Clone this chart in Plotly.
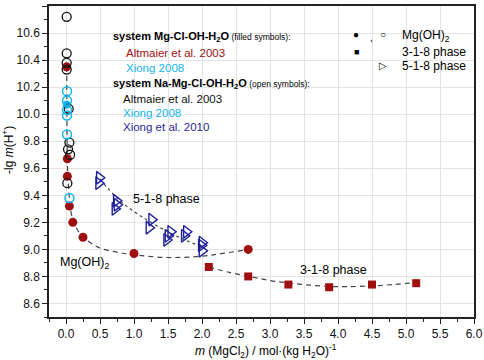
import plotly.graph_objects as go

# ---------------- data ----------------
# Mg-Cl-OH-H2O (filled symbols)
alt_mgoh_x = [0.01, 0.02, 0.02, 0.05, 0.10, 0.25, 1.00, 2.68]
alt_mgoh_y = [10.35, 9.67, 9.54, 9.32, 9.20, 9.09, 8.97, 9.00]
alt_318_x = [2.10, 2.68, 3.27, 3.87, 4.50, 5.15]
alt_318_y = [8.87, 8.80, 8.74, 8.72, 8.74, 8.75]
xiong08_filled_x = [0.01]
xiong08_filled_y = [10.07]

# Na-Mg-Cl-OH-H2O (open symbols)
alt_open_x = [0.01, 0.01, 0.01, 0.01, 0.04, 0.05, 0.03, 0.06, 0.02]
alt_open_y = [10.72, 10.45, 10.38, 10.33, 10.04, 9.79, 9.74, 9.70, 9.49]
xiong08_open_x = [0.015, 0.015, 0.015, 0.015, 0.015, 0.05]
xiong08_open_y = [10.17, 10.10, 10.03, 9.99, 9.85, 9.38]
xiong10_x = [0.49, 0.48, 0.74, 0.75, 0.72, 1.26, 1.22, 1.54, 1.50, 1.48, 1.77, 1.74, 2.00, 1.99, 2.00]
xiong10_y = [9.53, 9.49, 9.36, 9.33, 9.30, 9.22, 9.16, 9.13, 9.10, 9.07, 9.13, 9.10, 9.05, 9.03, 8.99]

# fitted curves
curve_mgoh_x = [0.01, 0.012, 0.015, 0.02, 0.03, 0.05, 0.10, 0.20, 0.30, 0.50, 0.75, 1.00, 1.50, 2.00, 2.30, 2.70]
curve_mgoh_y = [10.35, 10.10, 9.85, 9.66, 9.52, 9.38, 9.22, 9.12, 9.07, 9.01, 8.98, 8.96, 8.94, 8.95, 8.97, 9.00]
curve_518_x = [0.50, 0.75, 1.00, 1.25, 1.50, 1.75, 2.00]
curve_518_y = [9.52, 9.38, 9.28, 9.20, 9.13, 9.07, 9.02]
curve_318_x = [2.10, 2.40, 2.70, 3.00, 3.30, 3.60, 3.90, 4.20, 4.50, 4.80, 5.25]
curve_318_y = [8.87, 8.83, 8.80, 8.77, 8.75, 8.735, 8.725, 8.725, 8.73, 8.74, 8.76]

x_ticks = [0.0, 0.5, 1.0, 1.5, 2.0, 2.5, 3.0, 3.5, 4.0, 4.5, 5.0, 5.5, 6.0]
y_ticks = [8.6, 8.8, 9.0, 9.2, 9.4, 9.6, 9.8, 10.0, 10.2, 10.4, 10.6, 10.8]

RED = "#a00f0f"
CYAN = "#12b4ee"
NAVY = "#1f1f9a"
LINE = "#444444"
FONT = "Liberation Sans, Arial, sans-serif"

fig = go.Figure()

# curves
fig.add_trace(go.Scatter(x=curve_mgoh_x, y=curve_mgoh_y, mode="lines",
                         line=dict(color=LINE, width=1.2, dash="5px,4px", shape="spline")))
fig.add_trace(go.Scatter(x=curve_518_x, y=curve_518_y, mode="lines",
                         line=dict(color=LINE, width=1.2, dash="dot", shape="spline")))
fig.add_trace(go.Scatter(x=curve_318_x, y=curve_318_y, mode="lines",
                         line=dict(color=LINE, width=1.2, dash="5px,4px", shape="spline")))

# markers
fig.add_trace(go.Scatter(x=alt_mgoh_x, y=alt_mgoh_y, mode="markers",
                         marker=dict(symbol="circle", size=9, color=RED)))
fig.add_trace(go.Scatter(x=xiong08_filled_x, y=xiong08_filled_y, mode="markers",
                         marker=dict(symbol="circle", size=8, color=CYAN)))
fig.add_trace(go.Scatter(x=alt_open_x, y=alt_open_y, mode="markers",
                         marker=dict(symbol="circle-open", size=9, color="#111111",
                                     line=dict(width=1.3))))
fig.add_trace(go.Scatter(x=xiong08_open_x, y=xiong08_open_y, mode="markers",
                         marker=dict(symbol="circle-open", size=9, color=CYAN,
                                     line=dict(width=1.5))))
fig.add_trace(go.Scatter(x=alt_318_x, y=alt_318_y, mode="markers",
                         marker=dict(symbol="square", size=8, color=RED)))
fig.add_trace(go.Scatter(x=xiong10_x, y=xiong10_y, mode="markers",
                         marker=dict(symbol="triangle-right-open", size=11, color=NAVY,
                                     line=dict(width=1.4))))

ann = []
def t(x, y, text, color="black", size=12, xanchor="left", ref="paper", **kw):
    ann.append(dict(x=x, y=y, xref=ref if ref == "paper" else "x", yref=ref if ref == "paper" else "y",
                    text=text, showarrow=False, xanchor=xanchor, yanchor="middle",
                    font=dict(family=FONT, size=size, color=color), **kw))

def px(xp):
    return (xp - 49) / 425.0
def py(yp):
    return 1 - (yp - 6) / 311.0

t(px(111), py(37), "<b>system Mg-Cl-OH-H<sub>2</sub>O</b><span style='font-size:8.5px'> (filled symbols):</span>", size=11)
t(px(124), py(53), "Altmaier et al. 2003", color=RED, size=11.5)
t(px(124), py(68), "Xiong 2008", color=CYAN, size=11.5)
t(px(111), py(84), "<b>system Na-Mg-Cl-OH-H<sub>2</sub>O</b><span style='font-size:8.5px'> (open symbols):</span>", size=11)
t(px(121), py(99), "Altmaier et al. 2003", color="#111111", size=11.5)
t(px(121), py(113), "Xiong 2008", color=CYAN, size=11.5)
t(px(121), py(127), "Xiong et al. 2010", color=NAVY, size=11.5)

# key
t(px(356), py(35), "●", size=10, xanchor="center")
t(px(371), py(37), ",", size=10, xanchor="center")
t(px(383), py(35), "○", size=10, xanchor="center")
t(px(400), py(36), "Mg(OH)<sub>2</sub>", size=12)
t(px(356), py(52), "■", size=9, xanchor="center")
t(px(400), py(52), "3-1-8 phase", size=12)
t(px(383), py(66), "▷", size=10, xanchor="center")
t(px(400), py(66), "5-1-8 phase", size=12)

# in-plot labels
t(1.48, 9.37, "5-1-8 phase", size=12.5, xanchor="center", ref="data")
t(0.27, 8.90, "Mg(OH)<sub>2</sub>", size=12.5, xanchor="center", ref="data")
t(3.93, 8.845, "3-1-8 phase", size=12.5, xanchor="center", ref="data")

# axis titles
t(px(266), py(351), "<i>m</i> (MgCl<sub>2</sub>) / mol·(kg H<sub>2</sub>O)<sup>-1</sup>", size=12, xanchor="center")
ann.append(dict(x=px(8), y=py(150), xref="paper", yref="paper", text="-lg <i>m</i>(H<sup>+</sup>)",
                showarrow=False, textangle=-90, xanchor="center", yanchor="middle",
                font=dict(family=FONT, size=12, color="black")))

axis_common = dict(showline=True, linecolor="#222222", linewidth=1.5, mirror=True,
                   ticks="outside", ticklen=5, tickwidth=1, tickcolor="#222222",
                   showgrid=True, gridcolor="#e3e3e3", gridwidth=1, zeroline=False,
                   tickfont=dict(family=FONT, size=12, color="#111111"))

fig.update_layout(
    width=484, height=360,
    margin=dict(l=49, r=10, t=6, b=43, autoexpand=False),
    paper_bgcolor="white", plot_bgcolor="white",
    showlegend=False,
    annotations=ann,
    xaxis=dict(range=[-0.25, 6.0], tickvals=x_ticks, ticktext=[f"{v:.1f}" for v in x_ticks],
               minor=dict(ticks="outside", ticklen=3, dtick=0.25, tick0=0, tickcolor="#222222", showgrid=False),
               **axis_common),
    yaxis=dict(range=[8.5, 10.8], tickvals=y_ticks, ticktext=[f"{v:.1f}" for v in y_ticks],
               minor=dict(ticks="outside", ticklen=3, dtick=0.1, tick0=8.5, tickcolor="#222222", showgrid=False),
               **axis_common),
)

fig.write_html("out.html", config={"displayModeBar": False},
               post_script="document.body.style.margin='0';document.body.style.overflow='hidden';")
